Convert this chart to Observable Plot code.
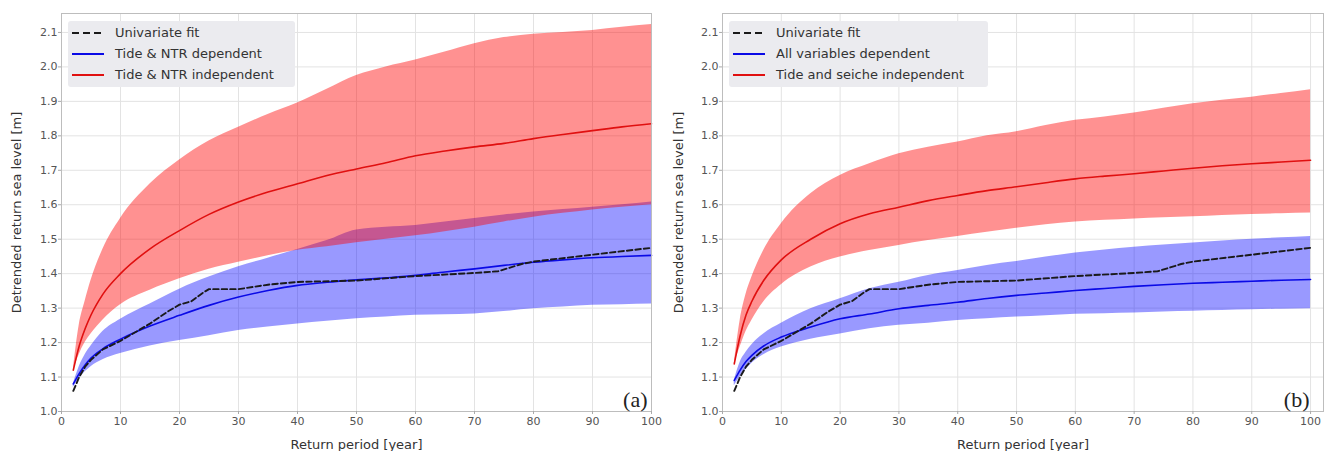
<!DOCTYPE html>
<html><head><meta charset="utf-8">
<script src="https://cdn.jsdelivr.net/npm/d3@7"></script>
<script src="https://cdn.jsdelivr.net/npm/@observablehq/plot@0.6"></script>
<style>
html,body{margin:0;padding:0;background:#fff;}
body{font-family:"DejaVu Sans",sans-serif;}
#row{display:flex;width:1329px;height:451px;overflow:hidden;}
.panel{position:relative;}
.legend{position:absolute;background:#ebebef;border-radius:3px;padding:1px 8px 0 4px;box-sizing:border-box;height:66px;}
.legend .item{display:flex;align-items:center;height:21px;font-size:13px;color:#333;white-space:nowrap;}
.legend svg{margin-right:11px;flex:none;}
</style></head>
<body><div id="row"></div>
<script>
// ---- data ----
const returnPeriod = [2,3,4,5,7,10,15,20,25,30,35,40,45,50,55,60,65,70,75,80,85,90,95,100];

const uniPeriod = [2,3,4,5,7,10,13,15,18,20,22,24,25,30,35,40,50,60,70,74,78,80,90,100];
const uniLevel  = [1.06,1.10,1.13,1.15,1.18,1.205,1.235,1.255,1.29,1.31,1.32,1.345,1.355,1.355,1.368,1.376,1.38,1.393,1.402,1.407,1.428,1.435,1.455,1.475];

// panel (a)
const aRedMid  = [1.12,1.19,1.24,1.28,1.34,1.40,1.472,1.525,1.572,1.608,1.637,1.661,1.685,1.704,1.722,1.742,1.756,1.768,1.778,1.792,1.804,1.815,1.826,1.835];
const aRedHigh = [1.12,1.25,1.32,1.38,1.47,1.56,1.66,1.73,1.785,1.825,1.862,1.895,1.935,1.975,2.0,2.02,2.043,2.067,2.085,2.095,2.10,2.106,2.115,2.123];
const aRedLow  = [1.12,1.165,1.2,1.225,1.265,1.31,1.352,1.385,1.413,1.433,1.452,1.468,1.478,1.49,1.50,1.51,1.522,1.535,1.55,1.564,1.575,1.585,1.593,1.60];
const aBlueMid  = [1.08,1.11,1.135,1.155,1.182,1.21,1.248,1.279,1.308,1.332,1.351,1.366,1.375,1.382,1.388,1.395,1.405,1.414,1.424,1.433,1.44,1.446,1.45,1.453];
const aBlueHigh = [1.08,1.13,1.165,1.19,1.232,1.268,1.312,1.355,1.39,1.42,1.445,1.47,1.496,1.527,1.535,1.54,1.55,1.56,1.57,1.579,1.586,1.593,1.60,1.608];
const aBlueLow  = [1.07,1.095,1.115,1.13,1.15,1.168,1.19,1.206,1.22,1.235,1.245,1.254,1.262,1.269,1.274,1.279,1.281,1.283,1.29,1.298,1.303,1.308,1.31,1.312];

// panel (b)
const bRedMid  = [1.138,1.22,1.28,1.32,1.38,1.44,1.50,1.545,1.574,1.593,1.612,1.627,1.641,1.652,1.664,1.675,1.683,1.69,1.698,1.706,1.713,1.719,1.724,1.729];
const bRedHigh = [1.138,1.264,1.34,1.39,1.467,1.545,1.632,1.685,1.719,1.748,1.767,1.782,1.80,1.812,1.83,1.845,1.855,1.866,1.88,1.893,1.903,1.912,1.923,1.934];
const bRedLow  = [1.138,1.187,1.232,1.265,1.318,1.368,1.419,1.448,1.467,1.482,1.496,1.508,1.52,1.532,1.542,1.55,1.555,1.559,1.562,1.565,1.569,1.572,1.574,1.576];
const bBlueMid  = [1.09,1.12,1.145,1.163,1.19,1.216,1.245,1.269,1.283,1.298,1.308,1.317,1.328,1.337,1.344,1.351,1.357,1.363,1.368,1.372,1.375,1.378,1.381,1.383];
const bBlueHigh = [1.09,1.143,1.172,1.194,1.225,1.256,1.298,1.327,1.356,1.375,1.395,1.409,1.424,1.435,1.448,1.46,1.469,1.477,1.483,1.489,1.495,1.50,1.504,1.508];
const bBlueLow  = [1.075,1.10,1.122,1.14,1.165,1.187,1.21,1.225,1.24,1.25,1.256,1.264,1.269,1.274,1.278,1.282,1.284,1.286,1.289,1.291,1.293,1.295,1.297,1.298];

const xTicks = [0,10,20,30,40,50,60,70,80,90,100];
const yTicks = [1.0,1.1,1.2,1.3,1.4,1.5,1.6,1.7,1.8,1.9,2.0,2.1];
const xLabel = "Return period [year]";
const yLabel = "Detrended return sea level [m]";
const legendA = ["Univariate fit","Tide & NTR dependent","Tide & NTR independent"];
const legendB = ["Univariate fit","All variables dependent","Tide and seiche independent"];

// ---- build ----
const uni = uniPeriod.map((x,i)=>({x, y: uniLevel[i]}));
function rows(mid, lo, hi){ return returnPeriod.map((x,i)=>({x, mid: mid[i], lo: lo[i], hi: hi[i]})); }

const RED_FILL = "red", BLUE_FILL = "blue";
const RED_LINE = "#e01010", BLUE_LINE = "#0a0ae6";

function panel({width, marginLeft, marginRight, xMax, red, blue, tag, tagDx, legend, legendLeft, legendWidth}){
  const wrap = document.createElement("div");
  wrap.className = "panel";
  wrap.style.width = width + "px";
  const chart = Plot.plot({
    width, height: 451,
    marginLeft, marginRight, marginTop: 13, marginBottom: 40,
    style: {fontFamily: "DejaVu Sans, sans-serif", background: "#fff", overflow: "visible"},
    x: {domain: [0, xMax]},
    y: {domain: [1.0, 2.155]},
    marks: [
      Plot.gridX(xTicks, {stroke: "#e3e3e3", strokeOpacity: 1}),
      Plot.gridY(yTicks, {stroke: "#e3e3e3", strokeOpacity: 1}),
      Plot.areaY(blue, {x: "x", y1: "lo", y2: "hi", fill: BLUE_FILL, fillOpacity: 0.4, curve: "monotone-x"}),
      Plot.areaY(red, {x: "x", y1: "lo", y2: "hi", fill: RED_FILL, fillOpacity: 0.43, curve: "monotone-x"}),
      Plot.line(blue, {x: "x", y: "mid", stroke: BLUE_LINE, strokeWidth: 1.6, curve: "monotone-x"}),
      Plot.line(red, {x: "x", y: "mid", stroke: RED_LINE, strokeWidth: 1.6, curve: "monotone-x"}),
      Plot.line(uni, {x: "x", y: "y", stroke: "#1a1a1a", strokeWidth: 1.9, strokeDasharray: "5.5,3"}),
      Plot.frame({stroke: "#bdbdbd", strokeWidth: 1}),
      Plot.axisX({ticks: xTicks, tickSize: 3, tickPadding: 3, fontSize: 11, stroke: "#aaa", fill: "#555", label: null}),
      Plot.axisX({ticks: [], label: xLabel, labelAnchor: "center", labelArrow: "none", labelOffset: 37, fontSize: 13, fill: "#333"}),
      Plot.axisY({ticks: yTicks, tickSize: 3, tickPadding: 1, fontSize: 11, stroke: "#aaa", fill: "#555", tickFormat: d3.format(".1f"), label: null}),
      Plot.axisY({ticks: [], label: yLabel, labelAnchor: "center", labelArrow: "none", labelOffset: marginLeft - 11, fontSize: 13, fill: "#333"}),
      Plot.text([tag], {text: d => d, frameAnchor: "bottom-right", textAnchor: "end", lineAnchor: "bottom", dx: tagDx, dy: -5, fontSize: 22, fontFamily: "Liberation Serif, DejaVu Serif, serif", fill: "#222"})
    ]
  });
  wrap.appendChild(chart);
  const lg = document.createElement("div");
  lg.className = "legend";
  lg.style.left = legendLeft + "px";
  lg.style.top = "21px";
  lg.style.width = legendWidth + "px";
  const styles = [
    {stroke: "#1a1a1a", dash: "7,4"},
    {stroke: BLUE_LINE, dash: null},
    {stroke: RED_LINE, dash: null}
  ];
  legend.forEach((t, i) => {
    const it = document.createElement("div");
    it.className = "item";
    const s = styles[i];
    it.innerHTML = `<svg width="32" height="6"><line x1="0" x2="32" y1="3" y2="3" stroke="${s.stroke}" stroke-width="2" ${s.dash ? `stroke-dasharray="${s.dash}"` : ""}/></svg><span></span>`;
    it.querySelector("span").textContent = t;
    lg.appendChild(it);
  });
  wrap.appendChild(lg);
  return wrap;
}

const row = document.getElementById("row");
row.appendChild(panel({
  width: 662, marginLeft: 61, marginRight: 11, xMax: 100,
  red: rows(aRedMid, aRedLow, aRedHigh), blue: rows(aBlueMid, aBlueLow, aBlueHigh),
  tag: "(a)", tagDx: -4, legend: legendA, legendLeft: 68, legendWidth: 227
}));
row.appendChild(panel({
  width: 667, marginLeft: 60, marginRight: 6, xMax: 102.2,
  red: rows(bRedMid, bRedLow, bRedHigh), blue: rows(bBlueMid, bBlueLow, bBlueHigh),
  tag: "(b)", tagDx: -14, legend: legendB, legendLeft: 67, legendWidth: 259
}));
</script>
</body></html>
